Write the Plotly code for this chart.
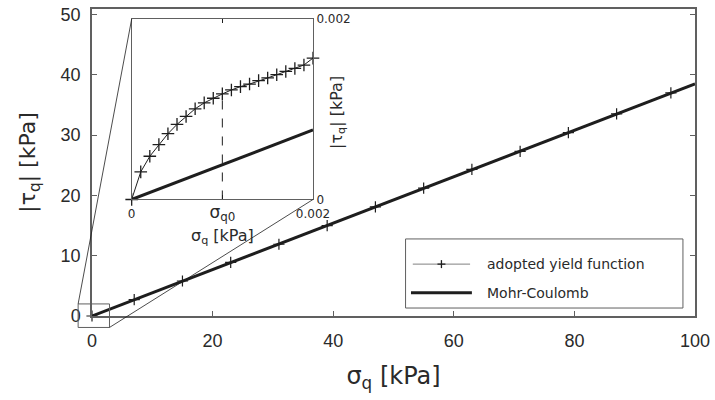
import plotly.graph_objects as go

# ---- data -------------------------------------------------------------
# main view: adopted yield function (sampled points) and Mohr-Coulomb line
sigma_main = [0, 7, 15, 23, 31, 39, 47, 55, 63, 71, 79, 87, 96]
tau_main = [0, 2.7, 5.8, 8.9, 11.9, 15.0, 18.1, 21.2, 24.3, 27.3, 30.4, 33.5, 37.0]
mc_sigma = [0, 100]
mc_tau = [0, 38.5]

# close-up near the origin
sigma_zoom = [0.0000, 0.0001, 0.0002, 0.0003, 0.0004, 0.0005, 0.0006, 0.0007,
              0.0008, 0.0009, 0.0010, 0.0011, 0.0012, 0.0013, 0.0014, 0.0015,
              0.0016, 0.0017, 0.0018, 0.0019, 0.0020]
tau_zoom = [0.0, 0.306e-3, 0.479e-3, 0.608e-3, 0.729e-3, 0.832e-3, 0.920e-3,
            1.005e-3, 1.071e-3, 1.122e-3, 1.170e-3, 1.214e-3, 1.251e-3, 1.279e-3,
            1.317e-3, 1.347e-3, 1.383e-3, 1.419e-3, 1.452e-3, 1.490e-3, 1.567e-3]
mc_sigma_zoom = [0, 0.002]
mc_tau_zoom = [0, 0.00077]
sigma_q0 = 0.001
tau_q0 = tau_zoom[sigma_zoom.index(sigma_q0)]

# axis settings
x_range = [0, 100]
y_range = [0, 50.9]
x_ticks = [0, 20, 40, 60, 80, 100]
y_ticks = [0, 10, 20, 30, 40, 50]
zoom_range = [0, 0.002]
zoom_window_x = [-2.3, 2.9]
zoom_window_y = [-1.9, 2.0]
inset_dom_x = [0.0658, 0.3665]
inset_dom_y = [0.3795, 0.9674]

legend_labels = ["adopted yield function", "Mohr-Coulomb"]

# ---- styling ----------------------------------------------------------
FRAME = "#606060"
INK = "#1e1e1e"
TXT = "#2a2a2a"
TICK_FONT = dict(family="Liberation Sans, Arial", size=18, color=TXT)
LABEL_FONT = "DejaVu Sans"


def to_paper_x(v):
    return (v - x_range[0]) / (x_range[1] - x_range[0])


def to_paper_y(v):
    return (v - y_range[0]) / (y_range[1] - y_range[0])


fig = go.Figure()

# main panel
fig.add_trace(go.Scatter(
    x=mc_sigma, y=mc_tau, mode="lines",
    line=dict(color=INK, width=3), showlegend=False, cliponaxis=False))
fig.add_trace(go.Scatter(
    x=sigma_main, y=tau_main, mode="lines+markers",
    line=dict(color=INK, width=1),
    marker=dict(symbol="cross-thin", size=8, line=dict(color=INK, width=1.2)),
    showlegend=False, cliponaxis=False))

# inset panel
fig.add_trace(go.Scatter(
    x=[sigma_q0, sigma_q0], y=[0, tau_q0], mode="lines",
    line=dict(color=INK, width=1, dash="dash"),
    xaxis="x3", yaxis="y3", showlegend=False))
fig.add_trace(go.Scatter(
    x=mc_sigma_zoom, y=mc_tau_zoom, mode="lines",
    line=dict(color=INK, width=3), xaxis="x3", yaxis="y3",
    showlegend=False, cliponaxis=False))
fig.add_trace(go.Scatter(
    x=sigma_zoom, y=tau_zoom, mode="lines+markers",
    line=dict(color=INK, width=1),
    marker=dict(symbol="cross-thin", size=9, line=dict(color=INK, width=1.3)),
    xaxis="x3", yaxis="y3", showlegend=False, cliponaxis=False))

# ---- shapes: zoom window, connectors, legend --------------------------
shapes = []
zx0, zx1 = to_paper_x(zoom_window_x[0]), to_paper_x(zoom_window_x[1])
zy0, zy1 = to_paper_y(zoom_window_y[0]), to_paper_y(zoom_window_y[1])
shapes.append(dict(type="rect", xref="paper", yref="paper",
                   x0=zx0, x1=zx1, y0=zy0, y1=zy1,
                   line=dict(color=FRAME, width=1)))
shapes.append(dict(type="line", xref="paper", yref="paper",
                   x0=zx0, y0=zy1, x1=inset_dom_x[0], y1=inset_dom_y[1],
                   line=dict(color=INK, width=0.8)))
shapes.append(dict(type="line", xref="paper", yref="paper",
                   x0=zx1, y0=zy0, x1=inset_dom_x[1], y1=inset_dom_y[0],
                   line=dict(color=INK, width=0.8)))

# legend box (paper units)
lg_x0, lg_x1, lg_y0, lg_y1 = 0.520, 0.980, 0.026, 0.251
shapes.append(dict(type="rect", xref="paper", yref="paper",
                   x0=lg_x0, x1=lg_x1, y0=lg_y0, y1=lg_y1,
                   line=dict(color=FRAME, width=1), fillcolor="white"))
row_y = [0.169, 0.076]
samp_x0, samp_x1 = 0.532, 0.627
shapes.append(dict(type="line", xref="paper", yref="paper",
                   x0=samp_x0, x1=samp_x1, y0=row_y[0], y1=row_y[0],
                   line=dict(color="#808080", width=1)))
mx = (samp_x0 + samp_x1) / 2
shapes.append(dict(type="line", xref="paper", yref="paper",
                   x0=mx - 0.0066, x1=mx + 0.0066, y0=row_y[0], y1=row_y[0],
                   line=dict(color=INK, width=1.3)))
shapes.append(dict(type="line", xref="paper", yref="paper",
                   x0=mx, x1=mx, y0=row_y[0] - 0.013, y1=row_y[0] + 0.013,
                   line=dict(color=INK, width=1.3)))
shapes.append(dict(type="line", xref="paper", yref="paper",
                   x0=samp_x0 - 0.003, x1=samp_x1 + 0.003, y0=row_y[1], y1=row_y[1],
                   line=dict(color=INK, width=3)))

annotations = []
for lbl, ry in zip(legend_labels, row_y):
    annotations.append(dict(
        text=lbl, xref="paper", yref="paper", x=0.651, y=ry,
        xanchor="left", yanchor="middle", showarrow=False,
        font=dict(family=LABEL_FONT, size=14, color=TXT)))

# inset axis titles
annotations.append(dict(
    text="σ<sub>q</sub> [kPa]", xref="paper", yref="paper",
    x=(inset_dom_x[0] + inset_dom_x[1]) / 2, y=to_paper_y(13.1),
    xanchor="center", yanchor="middle", showarrow=False,
    font=dict(family=LABEL_FONT, size=16, color=TXT)))
annotations.append(dict(
    text="|τ<sub>q</sub>| [kPa]", xref="paper", yref="paper",
    x=0.406, y=0.664, textangle=-90,
    xanchor="center", yanchor="middle", showarrow=False,
    font=dict(family=LABEL_FONT, size=16, color=TXT)))

fig.update_layout(
    width=715, height=400,
    margin=dict(l=92, r=20, t=9, b=84, autoexpand=False),
    paper_bgcolor="white", plot_bgcolor="rgba(0,0,0,0)",
    showlegend=False,
    shapes=shapes, annotations=annotations,
    xaxis=dict(
        range=x_range, tickvals=x_ticks, ticks="inside", ticklen=5,
        tickcolor=FRAME, showline=True, linecolor=FRAME, linewidth=1.5,
        mirror=True, showgrid=False, zeroline=False, automargin=False,
        tickfont=TICK_FONT, ticklabelstandoff=8,
        title=dict(text="σ<sub>q</sub> [kPa]",
                   font=dict(family=LABEL_FONT, size=24, color=TXT),
                   standoff=17)),
    xaxis2=dict(
        range=x_range, overlaying="x", side="top", anchor="y",
        tickvals=[0, 50, 100], ticks="inside", ticklen=5, tickcolor=FRAME,
        showticklabels=False, showgrid=False, zeroline=False, showline=False,
        automargin=False),
    yaxis=dict(
        range=y_range, tickvals=y_ticks, ticks="inside", ticklen=5,
        tickcolor=FRAME, showline=True, linecolor=FRAME, linewidth=1.5,
        mirror="ticks", showgrid=False, zeroline=False, automargin=False,
        tickfont=TICK_FONT, ticklabelstandoff=6,
        title=dict(text="|τ<sub>q</sub>| [kPa]",
                   font=dict(family=LABEL_FONT, size=22, color=TXT),
                   standoff=19)),
    xaxis3=dict(
        domain=inset_dom_x, anchor="y3", range=zoom_range,
        tickvals=[0, sigma_q0, 0.002],
        ticktext=["0", "<span style='font-size:17px'>σ<sub>q0</sub></span>", "0.002"],
        ticks="inside", ticklen=4, tickcolor=INK,
        showline=True, linecolor=FRAME, linewidth=1, mirror="ticks",
        showgrid=False, zeroline=False, automargin=False,
        tickfont=dict(family=LABEL_FONT, size=12, color=TXT),
        ticklabelstandoff=3),
    yaxis3=dict(
        domain=inset_dom_y, anchor="x3", range=zoom_range, side="right",
        tickvals=[0, 0.002], ticktext=["0", "0.002"],
        ticks="", showline=True, linecolor=FRAME, linewidth=1, mirror=True,
        showgrid=False, zeroline=False, automargin=False,
        tickfont=dict(family=LABEL_FONT, size=12, color=TXT)),
)

fig.write_html("out.html")
